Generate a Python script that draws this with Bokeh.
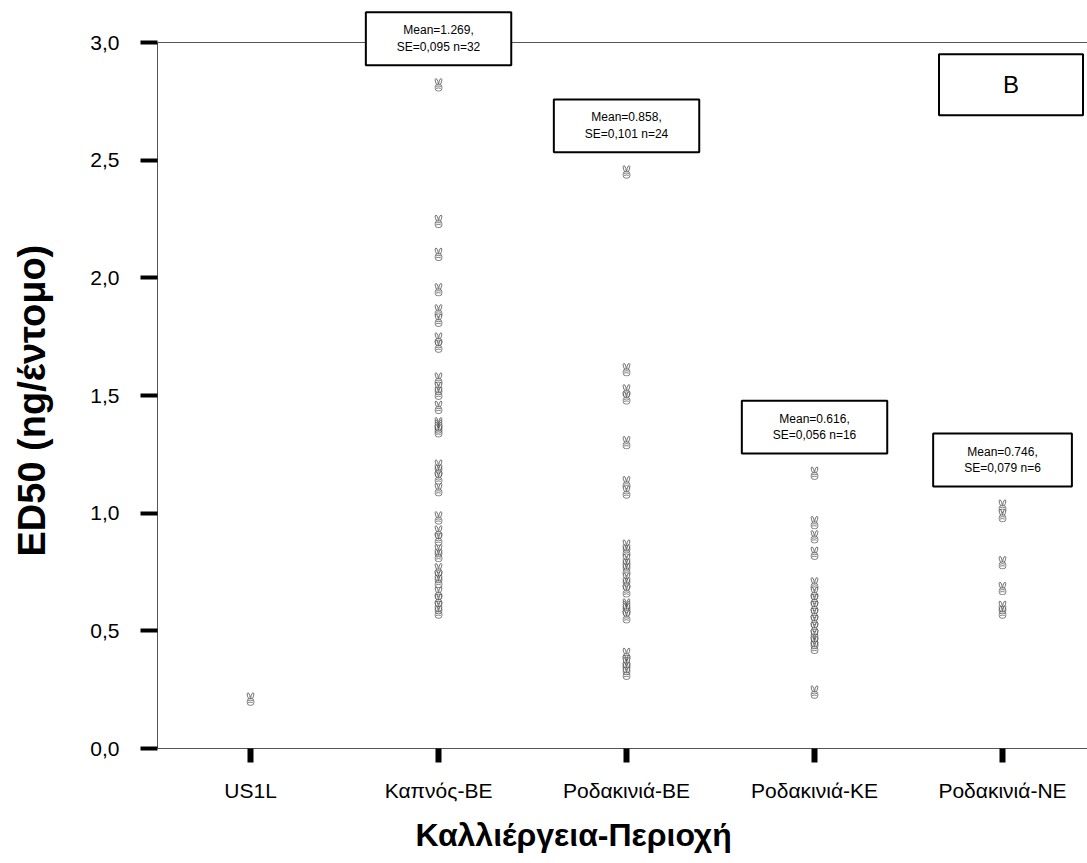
from urllib.parse import quote
from bokeh.plotting import figure
from bokeh.models import (Range1d, FixedTicker, Label, Span, Title,
                          CustomJSTickFormatter, ColumnDataSource)
from bokeh.embed import file_html
from bokeh.resources import INLINE

# ---------------- data ----------------
categories = ["US1L", "Καπνός-ΒΕ", "Ροδακινιά-ΒΕ", "Ροδακινιά-ΚΕ", "Ροδακινιά-ΝΕ"]

ed50_us1l = [0.21]
ed50_kapnos_be = [2.82, 2.24, 2.10, 1.95, 1.86, 1.82, 1.74, 1.71,
                  1.57, 1.53, 1.51, 1.45, 1.38, 1.37, 1.36, 1.35,
                  1.20, 1.18, 1.15, 1.10, 0.98, 0.92, 0.89, 0.84,
                  0.82, 0.76, 0.73, 0.71, 0.66, 0.63, 0.60, 0.58]
ed50_rodak_be = [2.45, 1.61, 1.52, 1.49, 1.30, 1.13, 1.09,
                 0.86, 0.84, 0.80, 0.78, 0.76, 0.72, 0.70, 0.67,
                 0.61, 0.60, 0.59, 0.56,
                 0.40, 0.37, 0.36, 0.34, 0.32]
ed50_rodak_ke = [1.17, 0.96, 0.90, 0.83, 0.70, 0.66, 0.63, 0.60,
                 0.57, 0.54, 0.51, 0.48, 0.46, 0.45, 0.43, 0.24]
ed50_rodak_ne = [1.03, 0.99, 0.79, 0.68, 0.60, 0.58]

series = [ed50_us1l, ed50_kapnos_be, ed50_rodak_be, ed50_rodak_ke, ed50_rodak_ne]

box_texts = [None,
             "Mean=1.269,\nSE=0,095 n=32",
             "Mean=0.858,\nSE=0,101 n=24",
             "Mean=0.616,\nSE=0,056 n=16",
             "Mean=0.746,\nSE=0,079 n=6"]

y_ticks = [0.0, 0.5, 1.0, 1.5, 2.0, 2.5, 3.0]
y_axis_max = 3.0
panel_letter = "B"
y_title = "ED50 (ng/έντομο)"
x_title = "Καλλιέργεια-Περιοχή"

# ---------------- marker symbol (victory hand, drawn as small SVG) ----------------
hand_svg = (
    "<svg xmlns='http://www.w3.org/2000/svg' width='20' height='26' viewBox='0 0 20 26'>"
    "<g fill='white' stroke='#3c3c3c' stroke-width='1.4'>"
    "<ellipse cx='6.6' cy='7.2' rx='2.2' ry='6' transform='rotate(-16 6.6 7.2)'/>"
    "<ellipse cx='13.2' cy='7.2' rx='2.2' ry='6' transform='rotate(16 13.2 7.2)'/>"
    "<rect x='4' y='12' width='12' height='12.5' rx='4.5'/>"
    "<path d='M5.5 16 Q10 13.8 14.5 16 M5.5 19.6 Q10 17.6 14 19.6' fill='none'/>"
    "</g></svg>"
)
hand_url = "data:image/svg+xml;charset=utf-8," + quote(hand_svg)

# ---------------- figure ----------------
FONT = "Liberation Sans"
FRAME = "#555555"

p = figure(width=1087, height=863, output_backend="svg", toolbar_location=None,
           x_range=Range1d(-0.495, 4.452), y_range=Range1d(0, 3.136),
           min_border_left=157, min_border_right=0,
           min_border_top=10, min_border_bottom=115)
p.outline_line_color = None
p.xgrid.visible = False
p.ygrid.visible = False
p.background_fill_color = "white"
p.border_fill_color = "white"

# y axis
ya = p.yaxis[0]
ya.bounds = (0, y_axis_max)
ya.ticker = FixedTicker(ticks=y_ticks)
ya.formatter = CustomJSTickFormatter(code="return tick.toFixed(1).replace('.', ',');")
ya.axis_line_color = FRAME
ya.axis_line_width = 1
ya.major_tick_line_color = "black"
ya.major_tick_line_width = 4
ya.major_tick_out = 17
ya.major_tick_in = 0
ya.minor_tick_line_color = None
ya.major_label_standoff = 21
ya.major_label_text_font = FONT
ya.major_label_text_font_size = "21px"
ya.major_label_text_color = "black"
# blank axis label used only as a spacer between tick labels and the title
ya.axis_label = "\u00a0"
ya.axis_label_text_font_size = "20px"
ya.axis_label_standoff = 8

# y axis title (side title, centred on the 0-3 span of the axis)
p.add_layout(Title(text=y_title, align="left", offset=192, standoff=4,
                   text_font=FONT, text_font_size="38px",
                   text_font_style="bold", text_color="black"), "left")

# x axis
xa = p.xaxis[0]
xa.ticker = FixedTicker(ticks=list(range(len(categories))))
xa.formatter = CustomJSTickFormatter(args=dict(cats=categories),
                                     code="return cats[Math.round(tick)];")
xa.axis_line_color = FRAME
xa.axis_line_width = 1
xa.major_tick_line_color = "black"
xa.major_tick_line_width = 6
xa.major_tick_out = 14
xa.major_tick_in = 0
xa.minor_tick_line_color = None
xa.major_label_standoff = 16
xa.major_label_text_font = FONT
xa.major_label_text_font_size = "21px"
xa.major_label_text_color = "black"

# top frame line at the top of the value axis
p.add_layout(Span(location=y_axis_max, dimension="width",
                  line_color=FRAME, line_width=1))

# points
xs, ys = [], []
for i, vals in enumerate(series):
    for v in vals:
        xs.append(i)
        ys.append(v)
src = ColumnDataSource(dict(x=xs, y=ys, url=[hand_url] * len(xs)))
p.image_url(url="url", x="x", y="y", w=11, h=14, w_units="screen", h_units="screen",
            anchor="center", global_alpha=0.85, source=src)

# statistic boxes
for i, (vals, txt) in enumerate(zip(series, box_texts)):
    if txt is None:
        continue
    p.add_layout(Label(x=i, y=max(vals) + 0.196, text=txt,
                       text_font=FONT, text_font_size="12px",
                       text_align="center", text_baseline="middle",
                       text_color="black",
                       background_fill_color="white",
                       border_line_color="black", border_line_width=2,
                       padding=dict(left=31, right=31, top=11, bottom=11)))

# panel letter
p.add_layout(Label(x=4.045, y=2.82, text=panel_letter,
                   text_font=FONT, text_font_size="24px",
                   text_align="center", text_baseline="middle",
                   text_color="black",
                   background_fill_color="white",
                   border_line_color="black", border_line_width=2,
                   padding=dict(left=64, right=64, top=17, bottom=17)))

# x axis title
p.add_layout(Title(text=x_title, align="left", offset=258, standoff=21,
                   text_font=FONT, text_font_size="32px",
                   text_font_style="bold", text_color="black"), "below")

open("out.html", "w").write(file_html(p, INLINE))
